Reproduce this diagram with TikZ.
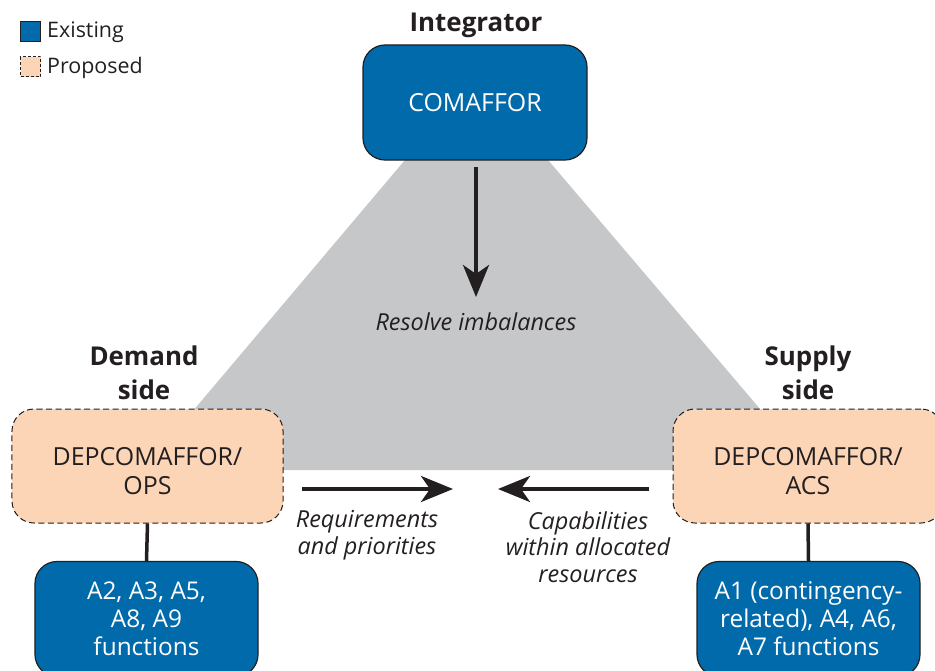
\documentclass[tikz,border=0pt]{standalone}
\usepackage{fontspec}
\setmainfont{Open Sans}
\usetikzlibrary{arrows.meta}
\definecolor{blu}{HTML}{006AAA}
\definecolor{peach}{HTML}{FBD5B5}
\definecolor{gry}{HTML}{C6C7C9}
\definecolor{ink}{HTML}{231F20}
\begin{document}
\begin{tikzpicture}[x=1bp,y=-1bp,
  existbox/.style={draw=ink, line width=1.2bp, fill=blu, rounded corners=22bp, text=white, align=center, inner sep=0pt, font=\fontsize{24.5}{28}\selectfont},
  propbox/.style={draw=ink, line width=1bp, dash pattern=on 6bp off 3.5bp, fill=peach, rounded corners=22bp, text=ink, align=center, inner sep=0pt, font=\fontsize{25}{29}\selectfont},
  titletext/.style={text=ink, align=center, font=\fontsize{26}{34}\selectfont\bfseries, inner sep=0pt},
  lbl/.style={text=ink, align=center, font=\fontsize{23.5}{26.5}\selectfont\itshape, inner sep=0pt},
  legtext/.style={text=ink, anchor=west, font=\fontsize{21.5}{24}\selectfont, inner sep=0pt},
  bigarrow/.style={draw=ink, line width=4bp, -{Stealth[length=32bp,width=26bp,inset=9bp]}},
  link/.style={draw=ink, line width=3.5bp}
]
\clip (0,0) rectangle (935,671);
% gray integration area
\fill[gry] (405,160) -- (548,160) -- (812,470) -- (143,470) -- cycle;

% legend
\node[existbox, rounded corners=0pt, minimum width=20bp, minimum height=20bp] (legE) at (30.5,31.5) {};
\node[legtext] (legEt) at (47,32.5) {Existing};
\node[propbox, rounded corners=0pt, dash pattern=on 3bp off 2bp, minimum width=20bp, minimum height=20bp] (legP) at (30.5,67) {};
\node[legtext] (legPt) at (47,68) {Proposed};

% titles
\node[titletext] (intT) at (476,25) {Integrator};
\node[titletext] (demT) at (144,373) {Demand\\side};
\node[titletext] (supT) at (808,373) {Supply\\side};

% boxes
\node[existbox, minimum width=224bp, minimum height=115bp, font=\fontsize{25}{28}\selectfont] (comaffor) at (475,102.5) {COMAFFOR};
\node[propbox, minimum width=271bp, minimum height=114bp] (ops) at (147.5,466) {\raisebox{-14bp}[0pt][0pt]{\begin{tabular}{@{}c@{}}DEPCOMAFFOR/\\OPS\end{tabular}}};
\node[propbox, minimum width=270bp, minimum height=114bp] (acs) at (808,466) {\raisebox{-14bp}[0pt][0pt]{\begin{tabular}{@{}c@{}}DEPCOMAFFOR/\\ACS\end{tabular}}};
\node[existbox, minimum width=223bp, minimum height=115bp] (afunL) at (146.5,619) {A2, A3, A5,\\A8, A9\\functions};
\node[existbox, minimum width=223bp, minimum height=115bp] (afunR) at (808.5,619) {A1 (contingency-\\related), A4, A6,\\A7 functions};

% links
\draw[link] (ops.south) -- (afunL.north);
\draw[link] (acs.south) -- (afunR.north);

% labels
\node[lbl] (resolve) at (476,322) {Resolve imbalances};
\node[lbl] (req) at (367,535) {Requirements\\and priorities};
\node[lbl] (cap) at (588,547) {Capabilities\\within allocated\\resources};

% arrows
\coordinate (dA) at (476,167);
\coordinate (dB) at (476,297);
\draw[bigarrow] (dA) -- (dB);
\coordinate (rqS) at (302,489);
\coordinate (rqE) at (453,489);
\draw[bigarrow] (rqS) -- (rqE);
\coordinate (cpS) at (649,489);
\coordinate (cpE) at (498,489);
\draw[bigarrow] (cpS) -- (cpE);
\end{tikzpicture}
\end{document}
